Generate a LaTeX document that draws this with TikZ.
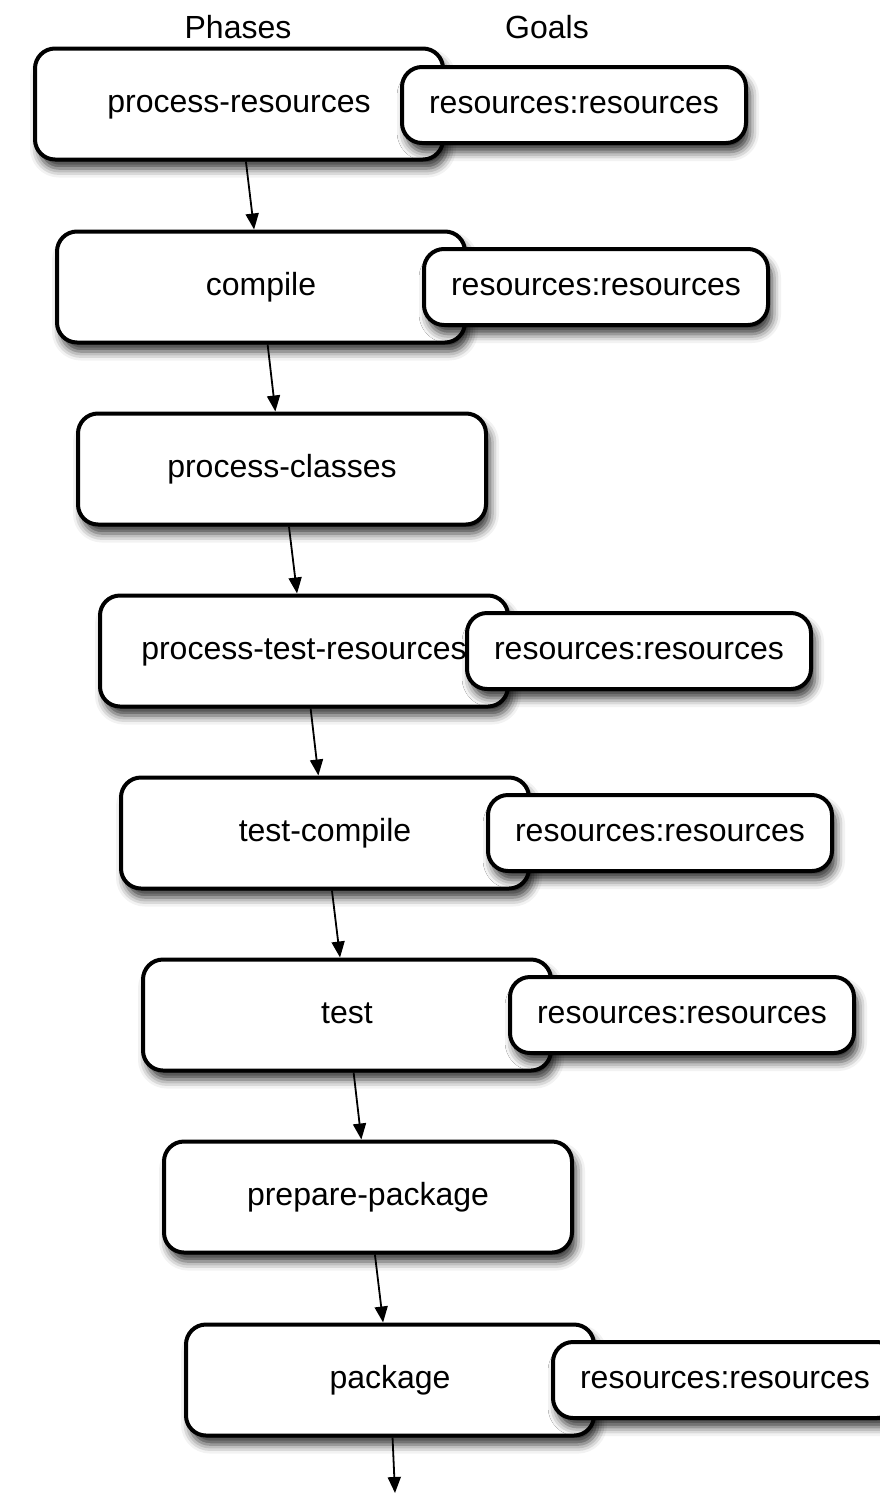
\documentclass[tikz,border=0pt]{standalone}
\usepackage{fontspec}
\setmainfont{Liberation Sans}
\usetikzlibrary{shadows.blur,arrows.meta}
\begin{document}
\begin{tikzpicture}[x=1pt,y=-1pt,
  every node/.style={font=\fontsize{32}{38}\selectfont},
  boxbase/.style={draw=black, line width=4pt, fill=white, rounded corners=20pt, inner sep=0pt,
    text height=16pt, text depth=0pt,
    blur shadow={shadow xshift=4pt, shadow yshift=-9pt, shadow blur radius=9pt, shadow opacity=80}},
  phase/.style={boxbase, minimum width=408pt, minimum height=111pt},
  goal/.style={boxbase, minimum width=344pt, minimum height=76pt},
  flow/.style={line width=1.8pt, -{Triangle[length=16pt,width=13pt]}},
  head/.style={font=\fontsize{32}{38}\selectfont}]
\useasboundingbox (0,0) rectangle (880,1494);
\clip (0,0) rectangle (880,1494);
\node[head] (hp) at (238,27) {Phases};
\node[head] (hg) at (547,27) {Goals};
\node[phase] (p1) at (239,104) {process-resources};
\node[goal] (g1) at (574,105) {resources:resources};
\node[phase] (p2) at (261,287) {compile};
\node[goal] (g2) at (596,287) {resources:resources};
\node[phase] (p3) at (282,469) {process-classes};
\node[phase] (p4) at (304,651) {process-test-resources};
\node[goal] (g4) at (639,651) {resources:resources};
\node[phase] (p5) at (325,833) {test-compile};
\node[goal] (g5) at (660,833) {resources:resources};
\node[phase] (p6) at (347,1015) {test};
\node[goal] (g6) at (682,1015) {resources:resources};
\node[phase] (p7) at (368,1197) {prepare-package};
\node[phase] (p8) at (390,1380) {package};
\node[goal] (g8) at (725,1380) {resources:resources};
\coordinate (end) at (395,1493);
\draw[flow] (p1) -- (p2);
\draw[flow] (p2) -- (p3);
\draw[flow] (p3) -- (p4);
\draw[flow] (p4) -- (p5);
\draw[flow] (p5) -- (p6);
\draw[flow] (p6) -- (p7);
\draw[flow] (p7) -- (p8);
\draw[flow] (p8) -- (end);
\end{tikzpicture}
\end{document}
